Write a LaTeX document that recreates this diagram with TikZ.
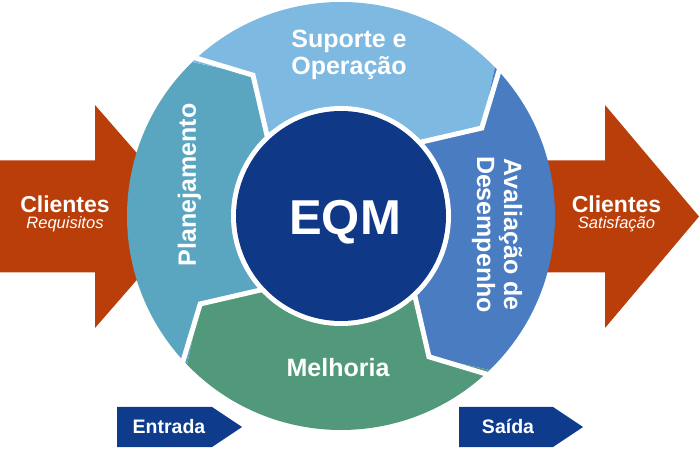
\documentclass[tikz,border=0pt]{standalone}
\usepackage{fontspec}
\setmainfont{Liberation Sans}
\usetikzlibrary{positioning}
\definecolor{clientred}{RGB}{186,62,10}
\definecolor{planteal}{RGB}{90,165,191}
\definecolor{suplight}{RGB}{125,185,224}
\definecolor{avalblue}{RGB}{74,124,193}
\definecolor{melgreen}{RGB}{82,153,123}
\definecolor{eqmnavy}{RGB}{15,57,135}
\definecolor{flownavy}{RGB}{14,59,140}

\begin{document}
\begin{tikzpicture}[
    x=1pt, y=1pt,
    every node/.style={align=center, text=white, inner sep=0pt},
    seglabel/.style={font=\fontsize{25}{27}\selectfont\bfseries},
    clientlabel/.style={font=\fontsize{23}{16}\selectfont\bfseries},
    sub/.style={},
    flowlabel/.style={font=\fontsize{19.5}{21}\selectfont\bfseries, anchor=base},
    gap/.style={white, line width=5pt, line join=miter}
]
\useasboundingbox (0,0) rectangle (700,449);

% Client arrows
\fill[clientred] (0,176.5) -- (95,176.5) -- (95,121) -- (192,232.5) -- (95,344) -- (95,288.5) -- (0,288.5) -- cycle;
\fill[clientred] (450,176.5) -- (605,176.5) -- (605,121) -- (699,232.5) -- (605,344) -- (605,288.5) -- (450,288.5) -- cycle;

% Process ring
\coordinate (C) at (341,233);
\begin{scope}[shift={(C)}]
  \foreach \a/\col in {180/planteal, 90/suplight, 0/avalblue, -90/melgreen}
    \fill[\col] (\a+44:214) arc[start angle=\a+44, end angle=\a-46, radius=214]
      -- (\a-58:166) -- (\a-47:108) arc[start angle=\a-47, end angle=\a+43, radius=108]
      -- (\a+32:166) -- cycle;
  \foreach \a in {135,45,-45,-135}
    \draw[gap] (\a-1:224) -- (\a-13:166) -- (\a-2:108);
  \fill[white] (0,0) circle[radius=110];
  \fill[eqmnavy] (0,0) circle[radius=105];
\end{scope}

% Input / output tags
\fill[flownavy] (117,2) -- (212,2) -- (242,22) -- (212,42) -- (117,42) -- cycle;
\fill[flownavy] (459,2) -- (553,2) -- (583,22) -- (553,42) -- (459,42) -- cycle;

% Labels
\newcommand\subtxt[1]{{\fontsize{16.5}{16}\selectfont\mdseries\itshape #1}}
\node[font=\fontsize{49}{51}\selectfont\bfseries, anchor=base] (eqm) at (345,214) {EQM};
\node[seglabel] (suporte) at (349,394) {Suporte e\\Operação};
\node[seglabel, rotate=90] (plan) at (189.5,264) {Planejamento};
\node[seglabel, rotate=-90] (aval) at (497,214.5) {Avaliação de\\Desempenho};
\node[seglabel, anchor=base] (melhoria) at (338,72) {Melhoria};
\node[clientlabel] (cliIn) at (65,235.5) {Clientes\\\subtxt{Requisitos}};
\node[clientlabel] (cliOut) at (616.5,235.5) {Clientes\\\subtxt{Satisfação}};
\node[flowlabel] (entrada) at (169,16) {Entrada};
\node[flowlabel] (saida) at (508,16) {Saída};

\end{tikzpicture}
\end{document}
